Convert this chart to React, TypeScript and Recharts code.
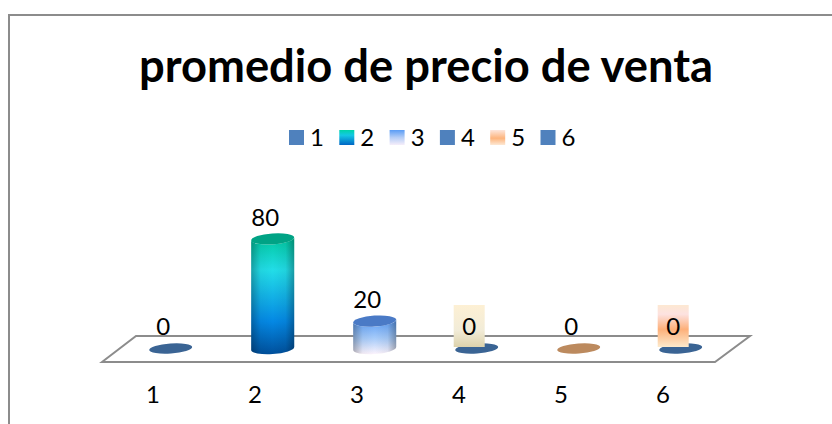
import { ComposedChart, Bar, XAxis, YAxis, ReferenceArea } from 'recharts';

const categories = ['1', '2', '3', '4', '5', '6'];
const values = [0, 80, 20, 0, 0, 0];

const chartTitle = 'promedio de precio de venta';
const FONT = 'Lato, "Open Sans", sans-serif';

const DEPTH_X = 17.5;
const RX = 21.5;
const RY = 5.5;
const TILT = 1.4;
const TILT_DEG = -4;

// per-point look: gradient id for the body, flat colour for the cap
const bodyFills = ['none', 'url(#body2)', 'url(#body3)', 'none', 'none', 'none'];
const capFills = ['#3a6494', '#00a385', '#4a7ac6', '#3a6494', '#bc8a5e', '#3a6494'];
const legendFills = ['#4f81bd', 'url(#legend2)', 'url(#legend3)', '#4f81bd', 'url(#legend5)', '#4f81bd'];
const labelBoxes = [null, null, null, 'url(#box4)', null, 'url(#box6)'];

const data = categories.map((name, i) => ({ name, value: values[i] }));

function Cylinder(props: any) {
  const { x, y, width, height, index } = props;
  const cx = x + width / 2 + DEPTH_X;
  const top = y;
  const base = y + height;
  const cap = capFills[index];
  if (height <= 0) {
    return <ellipse cx={cx} cy={base} rx={RX} ry={RY - 0.5} fill={cap} transform={`rotate(${TILT_DEG} ${cx} ${base})`} />;
  }
  const body =
    `M${cx - RX} ${top + TILT} L${cx - RX} ${base + TILT} ` +
    `A${RX} ${RY} ${TILT_DEG} 0 0 ${cx + RX} ${base - TILT} L${cx + RX} ${top - TILT} ` +
    `A${RX} ${RY} ${TILT_DEG} 0 1 ${cx - RX} ${top + TILT} Z`;
  return (
    <g>
      <path d={body} fill={bodyFills[index]} />
      <path d={body} fill="url(#sideShade)" />
      <ellipse cx={cx} cy={top} rx={RX} ry={RY} fill={cap} transform={`rotate(${TILT_DEG} ${cx} ${top})`} />
    </g>
  );
}

function ValueLabel(props: any) {
  const { x, y, width, index } = props;
  const cx = x + width / 2 + 10;
  const box = labelBoxes[index];
  const isZero = values[index] === 0;
  return (
    <g>
      {box && <rect x={cx - 15.5} y={305} width={31} height={42} fill={box} />}
      <text x={cx} y={isZero ? 335 : y - 13} textAnchor="middle" fontSize={24} fontFamily={FONT} fill="#000">
        {values[index]}
      </text>
    </g>
  );
}

function Floor(props: any) {
  const { x, width, y, height } = props;
  const front = y + height + 13.5;
  const back = y + height - 12.5;
  const points = `${x} ${front} ${x + 34} ${back} ${x + width + 36} ${back} ${x + width + 1} ${front}`;
  return <polygon points={points} fill="#fff" stroke="#8c8c8c" strokeWidth={2} />;
}

function LegendRow() {
  return (
    <svg width={300} height={32} style={{ position: 'absolute', left: 289, top: 122 }}>
      {categories.map((name, i) => (
        <g key={name} transform={`translate(${i * 50.3} 0)`}>
          <rect x={0} y={8} width={15} height={15} fill={legendFills[i]} />
          <text x={28} y={24} textAnchor="middle" fontSize={24} fontFamily={FONT} fill="#000">
            {name}
          </text>
        </g>
      ))}
      <defs>
        <linearGradient id="legend2" x1="0" y1="0" x2="0" y2="1">
          <stop offset="0%" stopColor="#00d4a8" />
          <stop offset="35%" stopColor="#14c8e4" />
          <stop offset="100%" stopColor="#0066c4" />
        </linearGradient>
        <linearGradient id="legend3" x1="0" y1="0" x2="0" y2="1">
          <stop offset="0%" stopColor="#5a9cf5" />
          <stop offset="50%" stopColor="#b4cdf6" />
          <stop offset="100%" stopColor="#f6eefa" />
        </linearGradient>
        <linearGradient id="legend5" x1="0" y1="0" x2="0" y2="1">
          <stop offset="0%" stopColor="#fde6dc" />
          <stop offset="55%" stopColor="#fdb47c" />
          <stop offset="100%" stopColor="#fde8d4" />
        </linearGradient>
      </defs>
    </svg>
  );
}

export default function App() {
  return (
    <div style={{ position: 'absolute', left: 0, top: 0, width: 832, height: 424, overflow: 'hidden', background: '#fff' }}>
      <div
        style={{
          position: 'absolute', left: 8, top: 14, width: 830, height: 420,
          border: '2px solid #8c8c8c', boxSizing: 'border-box',
        }}
      />
      <ComposedChart
        width={832}
        height={424}
        data={data}
        margin={{ top: 211.5, right: 118, bottom: 45.5, left: 102 }}
        style={{ position: 'absolute', left: 0, top: 0 }}
      >
        <defs>
          <linearGradient id="body2" x1="0" y1="0" x2="0" y2="1">
            <stop offset="0%" stopColor="#00c8a0" />
            <stop offset="28%" stopColor="#22dde8" />
            <stop offset="72%" stopColor="#0488e4" />
            <stop offset="100%" stopColor="#00509c" />
          </linearGradient>
          <linearGradient id="body3" x1="0" y1="0" x2="0" y2="1">
            <stop offset="0%" stopColor="#5a9cf5" />
            <stop offset="55%" stopColor="#a8ccfa" />
            <stop offset="100%" stopColor="#fdf4fd" />
          </linearGradient>
          <linearGradient id="sideShade" x1="0" y1="0" x2="1" y2="0">
            <stop offset="0%" stopColor="#000" stopOpacity={0.28} />
            <stop offset="22%" stopColor="#000" stopOpacity={0.04} />
            <stop offset="50%" stopColor="#000" stopOpacity={0} />
            <stop offset="80%" stopColor="#000" stopOpacity={0.05} />
            <stop offset="100%" stopColor="#000" stopOpacity={0.3} />
          </linearGradient>
          <linearGradient id="box4" x1="0" y1="0" x2="0" y2="1">
            <stop offset="0%" stopColor="#fdf0d4" />
            <stop offset="60%" stopColor="#f2ecd8" />
            <stop offset="100%" stopColor="#dcd2ac" />
          </linearGradient>
          <linearGradient id="box6" x1="0" y1="0" x2="0" y2="1">
            <stop offset="0%" stopColor="#fde8d2" />
            <stop offset="22%" stopColor="#fde2e0" />
            <stop offset="58%" stopColor="#fdb07a" />
            <stop offset="100%" stopColor="#fdeacc" />
          </linearGradient>
        </defs>
        <text x={426} y={82} textAnchor="middle" fontSize={45.3} fontWeight={700} fontFamily={FONT} fill="#000">
          {chartTitle}
        </text>
        <ReferenceArea y1={0} y2={100} shape={<Floor />} ifOverflow="visible" />
        <XAxis
          dataKey="name"
          axisLine={false}
          tickLine={false}
          interval={0}
          tick={{ fill: '#000', fontSize: 24, fontFamily: FONT }}
          tickMargin={31}
        />
        <YAxis hide domain={[0, 100]} width={0} />
        <Bar dataKey="value" isAnimationActive={false} shape={<Cylinder />} label={<ValueLabel />} />
      </ComposedChart>
      <LegendRow />
    </div>
  );
}
